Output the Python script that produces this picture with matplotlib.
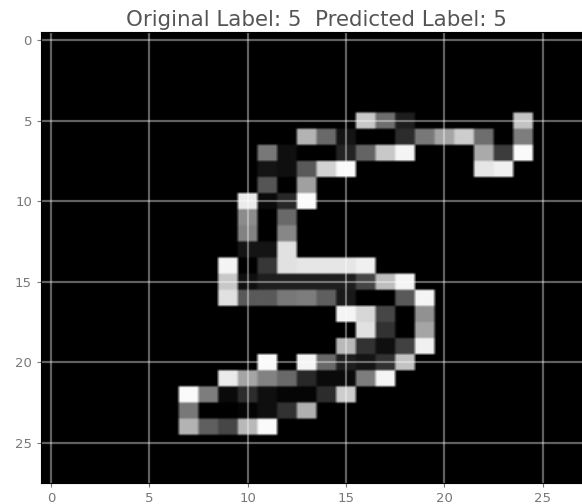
#! /usr/bin/env python

import numpy as np
import matplotlib
matplotlib.use('Agg')
import matplotlib.pyplot as plt

original_label = 5
predicted_label = 5
tick_values = [0, 5, 10, 15, 20, 25]

# grey levels, one line per image row
digit = np.array([
    [0] * 28,
    [0] * 28,
    [0] * 28,
    [0] * 28,
    [0] * 28,
    [0,0,0,0,0,0,0,0,0,0,0,0,0,0,0,0,200,110,30,0,0,0,0,0,195,0,0,0],
    [0,0,0,0,0,0,0,0,0,0,0,0,0,180,105,20,0,0,45,120,165,205,110,0,125,0,0,0],
    [0,0,0,0,0,0,0,0,0,0,0,120,15,0,0,35,100,200,245,0,0,0,170,60,250,0,0,0],
    [0,0,0,0,0,0,0,0,0,0,0,20,15,90,210,250,0,0,0,0,0,0,230,240,0,0,0,0],
    [0,0,0,0,0,0,0,0,0,0,0,85,0,160,0,0,0,0,0,0,0,0,0,0,0,0,0,0],
    [0,0,0,0,0,0,0,0,0,0,235,10,40,250,0,0,0,0,0,0,0,0,0,0,0,0,0,0],
    [0,0,0,0,0,0,0,0,0,0,140,0,105,0,0,0,0,0,0,0,0,0,0,0,0,0,0,0],
    [0,0,0,0,0,0,0,0,0,0,130,0,135,0,0,0,0,0,0,0,0,0,0,0,0,0,0,0],
    [0,0,0,0,0,0,0,0,0,0,20,20,225,0,0,0,0,0,0,0,0,0,0,0,0,0,0,0],
    [0,0,0,0,0,0,0,0,0,245,0,55,225,230,230,230,240,0,0,0,0,0,0,0,0,0,0,0],
    [0,0,0,0,0,0,0,0,0,200,15,30,30,30,30,30,70,190,245,0,0,0,0,0,0,0,0,0],
    [0,0,0,0,0,0,0,0,0,225,90,90,120,125,95,25,0,0,90,245,0,0,0,0,0,0,0,0],
    [0,0,0,0,0,0,0,0,0,0,0,0,0,0,0,245,215,70,0,145,0,0,0,0,0,0,0,0],
    [0,0,0,0,0,0,0,0,0,0,0,0,0,0,0,0,225,50,0,165,0,0,0,0,0,0,0,0],
    [0,0,0,0,0,0,0,0,0,0,0,0,0,0,0,185,50,15,65,240,0,0,0,0,0,0,0,0],
    [0,0,0,0,0,0,0,0,0,0,0,250,0,245,105,30,20,50,195,0,0,0,0,0,0,0,0,0],
    [0,0,0,0,0,0,0,0,0,235,165,130,105,40,10,10,125,245,0,0,0,0,0,0,0,0,0,0],
    [0,0,0,0,0,0,0,250,125,10,45,15,5,5,45,205,0,0,0,0,0,0,0,0,0,0,0,0],
    [0,0,0,0,0,0,0,120,0,0,5,15,50,175,0,0,0,0,0,0,0,0,0,0,0,0,0,0],
    [0,0,0,0,0,0,0,180,95,70,185,250,0,0,0,0,0,0,0,0,0,0,0,0,0,0,0,0],
    [0] * 28,
    [0] * 28,
    [0] * 28,
])

fig = plt.figure(figsize=(5.82, 5.04), dpi=100)
# the reference is cropped on the right, so the axes run past the figure edge
ax = fig.add_axes([41 / 582, 21 / 504, 551 / 582, 451 / 504])

# repeat the cells so the smoothing only softens their edges
soft = np.repeat(np.repeat(digit, 6, axis=0), 6, axis=1)
ax.imshow(soft, cmap='gray', vmin=0, vmax=255, aspect='auto',
          extent=(-0.5, 27.5, 27.5, -0.5), interpolation='bilinear')

ax.set_xticks(tick_values)
ax.set_yticks(tick_values)
ax.grid(True, color='white', alpha=0.38, linewidth=1.6)
ax.tick_params(labelsize=9.5, colors='#777777', length=3, width=0.8)
ax.set_title('Original Label: {}  Predicted Label: {}'.format(original_label, predicted_label),
             fontsize=15.4, color='#555555', pad=4)

plt.savefig('out.png', dpi=100)
